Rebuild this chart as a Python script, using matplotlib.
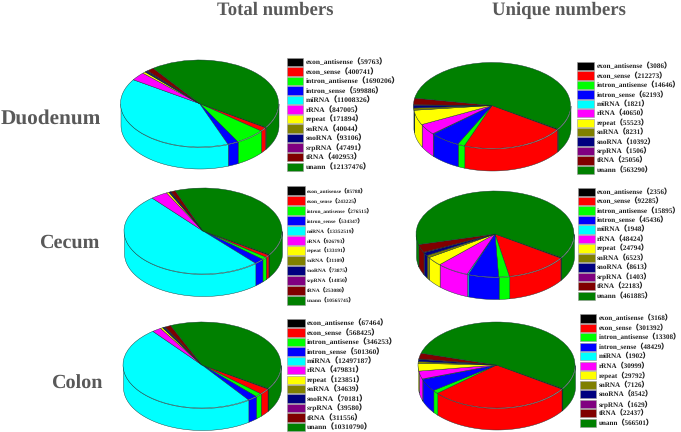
import numpy as np
import matplotlib
matplotlib.use("Agg")
import matplotlib.pyplot as plt
from matplotlib.patches import Rectangle

plt.rcParams["text.hinting"] = "no_hinting"

categories = ["exon_antisense", "exon_sense", "intron_antisense", "intron_sense", "miRNA", "rRNA",
              "repeat", "snRNA", "snoRNA", "srpRNA", "tRNA", "unann"]
colors = ["#000000", "#ff0000", "#00ff00", "#0000ff", "#00ffff", "#ff00ff",
          "#ffff00", "#808000", "#000080", "#800080", "#800000", "#008000"]

total_duodenum = [59763, 400741, 1690206, 599886, 11008326, 847005, 171894, 40044, 93106, 47491, 402953, 12137476]
total_cecum = [85788, 243225, 276515, 534347, 13352519, 926793, 133191, 31109, 73875, 14850, 253080, 10565745]
total_colon = [67464, 568425, 346253, 501360, 12497187, 479831, 123851, 34639, 70181, 39580, 311556, 10310790]
unique_duodenum = [3086, 212273, 14646, 62193, 1821, 40650, 55523, 8231, 10392, 1506, 25056, 563290]
unique_cecum = [2356, 92285, 15895, 45436, 1948, 48424, 24794, 6523, 8613, 1403, 22183, 461885]
unique_colon = [3168, 301392, 13308, 48429, 1902, 30999, 29792, 7126, 8542, 1629, 22437, 566501]

W, H = 681, 432
fig = plt.figure(figsize=(W / 100, H / 100), dpi=100, facecolor="white")
overlay = fig.add_axes([0, 0, 1, 1], zorder=5)
overlay.set_xlim(0, W)
overlay.set_ylim(H, 0)
overlay.axis("off")
overlay.patch.set_alpha(0)

START = -33
SERIF = ["Liberation Serif", "Noto Sans CJK SC"]
EDGE = "#143030"


def pie3d(values, cx, cy, rx, ry, depth):
    pad = 2
    left = (cx - rx - pad) / W
    bottom = 1 - (cy + ry + depth + pad) / H
    ax = fig.add_axes([left, bottom, (2 * rx + 2 * pad) / W, (2 * ry + depth + 2 * pad) / H])
    d = depth / ry
    fractions = np.asarray(values, float) / np.sum(values)
    edges = START - 360 * np.concatenate([[0], np.cumsum(fractions)])
    for i in range(len(values)):
        hi, lo = edges[i], edges[i + 1]
        for a, b in [(-180, 0), (-540, -360)]:
            s, e = max(lo, a), min(hi, b)
            if e <= s:
                continue
            t = np.radians(np.linspace(s, e, 60))
            ax.fill_between(np.cos(t), np.sin(t), np.sin(t) - d, color=colors[i], ec=EDGE, lw=0.3, zorder=1)
    wedges, _ = ax.pie(values, colors=colors, startangle=START, counterclock=False, radius=1,
                       wedgeprops=dict(edgecolor=EDGE, linewidth=0.3))
    for w in wedges:
        w.set_zorder(2)
    ax.set_aspect("auto")
    ax.set_xlim(-1 - pad / rx, 1 + pad / rx)
    ax.set_ylim(-1 - d - pad / ry, 1 + pad / ry)
    ax.axis("off")


def legend(values, sx0, sx1, y0, y1, tx, fs, sh):
    ys = np.linspace(y0, y1, len(values))
    for y, name, v, c in zip(ys, categories, values, colors):
        overlay.add_patch(Rectangle((sx0, y - sh / 2), sx1 - sx0, sh, fc=c, ec="#999999", lw=0.4))
        overlay.text(tx, y, f"{name}（{v}）", family=SERIF, fontweight="bold", fontsize=fs,
                     va="center", ha="left", color="#222222")


pie3d(total_duodenum, 199.5, 103.5, 79, 43.5, 21.5)
pie3d(total_cecum, 203, 231, 79, 43, 22)
pie3d(total_colon, 202, 365, 79, 43, 22)
pie3d(unique_duodenum, 492, 105.5, 78.5, 43, 22)
pie3d(unique_cecum, 495, 234, 79, 43, 22)
pie3d(unique_colon, 496.5, 365, 78.5, 43, 21.5)

legend(total_duodenum, 286.7, 303, 62, 166.7, 305.7, 5.4, 8.4)
legend(total_cecum, 287.3, 305.3, 190.3, 300, 306.7, 3.95, 9)
legend(total_colon, 287.3, 304.7, 323, 427, 306.7, 5.4, 8.4)
legend(unique_duodenum, 577.3, 594.3, 66, 170, 596.7, 5.2, 8.4)
legend(unique_cecum, 578.3, 595, 191.7, 295.7, 596.7, 5.2, 8.4)
legend(unique_colon, 580, 596, 318.3, 422.7, 599, 5.1, 8.4)

GREY = "#595959"
for label, x, y, fs in [("Total numbers", 275.5, 15, 13.5), ("Unique numbers", 559, 15, 13.5)]:
    overlay.text(x, y, label, family="Liberation Serif", fontweight="bold", fontsize=fs, color=GREY,
                 ha="center", va="baseline")
for label, x, y, fs in [("Duodenum", 101, 123.5, 15.3), ("Cecum", 99.5, 247.7, 14.5), ("Colon", 102, 388.3, 14.5)]:
    overlay.text(x, y, label, family="Liberation Serif", fontweight="bold", fontsize=fs, color=GREY,
                 ha="right", va="baseline")

fig.savefig("out.png", dpi=100)
